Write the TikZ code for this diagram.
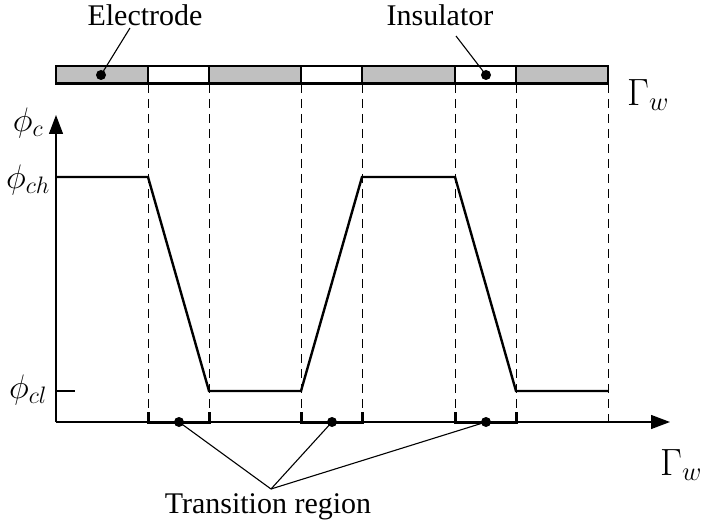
\documentclass[tikz,border=0pt]{standalone}
\usepackage{fix-cm}
\usepackage{fontspec}
\setmainfont{Liberation Serif}
\usetikzlibrary{arrows.meta}
\definecolor{electrode}{RGB}{192,192,192}
\tikzset{
  lbl/.style={font=\fontsize{30}{34}\selectfont, inner sep=0pt},
  mlbl/.style={font=\fontsize{38}{42}\selectfont, inner sep=0pt},
  plbl/.style={font=\fontsize{34}{38}\selectfont, inner sep=0pt},
  dotnode/.style={circle, fill=black, inner sep=0pt, minimum size=10pt},
  guide/.style={dash pattern=on 9pt off 6pt, line width=1pt},
  axis/.style={line width=1.3pt, -{Triangle[length=19pt,width=14pt]}},
  curve/.style={line width=2.4pt, line join=miter},
  bracket/.style={line width=3pt, line join=miter},
  pointer/.style={line width=1.1pt},
}
\begin{document}
\begin{tikzpicture}[x=1pt,y=-1pt]
    \useasboundingbox (0,0) rectangle (704,529);

    % Wall with electrodes and insulators
    \foreach \a/\b/\c in {56/148/electrode, 148/209/white, 209/301/electrode, 301/362/white, 362/455/electrode, 455/516/white, 516/608/electrode}
        \draw[line width=1.2pt, fill=\c] (\a,66) rectangle (\b,84);
    \draw[line width=3pt] (56,84) -- (608,84);
    \node[mlbl] (gtop) at (648,95) {$\Gamma_w$};

    % Dashed guides
    \foreach \x in {148,209,301,362,455,516,608}
        \draw[guide] (\x,84) -- (\x,422);

    % Axes
    \coordinate (O) at (56,422);
    \coordinate (ytip) at (56,115);
    \coordinate (xtip) at (670,422);
    \draw[axis] (O) -- (ytip);
    \draw[axis] (O) -- (xtip);
    \node[plbl] (phic) at (28,123) {$\phi_c$};
    \node[plbl] (phich) at (28,180) {$\phi_{ch}$};
    \node[plbl] (phicl) at (28,390) {$\phi_{cl}$};
    \node[mlbl] (gbot) at (681,465) {$\Gamma_w$};

    % Potential profile
    \draw[curve] (56,177) -- (148,177) -- (209,391) -- (301,391) -- (362,177)
        -- (455,177) -- (516,391) -- (608,391);
    \draw[curve] (56,391) -- (75,391);

    % Transition regions
    \draw[bracket] (148,412) -- (148,422) -- (209,422) -- (209,412);
    \draw[bracket] (301,412) -- (301,422) -- (362,422) -- (362,412);
    \draw[bracket] (455,412) -- (455,422) -- (516,422) -- (516,412);
    \node[dotnode] (t1) at (179,422) {};
    \node[dotnode] (t2) at (332,422) {};
    \node[dotnode] (t3) at (486,422) {};
    \coordinate (tj) at (271,489);
    \node[lbl] (trans) at (268,507) {Transition region};
    \draw[pointer] (t1.center) -- (tj);
    \draw[pointer] (t2.center) -- (tj);
    \draw[pointer] (t3.center) -- (tj);

    % Electrode and insulator labels
    \node[lbl] (elec) at (145,15) {Electrode};
    \node[dotnode] (ed) at (101,75) {};
    \coordinate (eleca) at (130,28);
    \draw[pointer] (ed.center) -- (eleca);
    \node[lbl] (ins) at (440,15) {Insulator};
    \node[dotnode] (id) at (486,75) {};
    \coordinate (insa) at (456,36);
    \draw[pointer] (id.center) -- (insa);
\end{tikzpicture}
\end{document}
